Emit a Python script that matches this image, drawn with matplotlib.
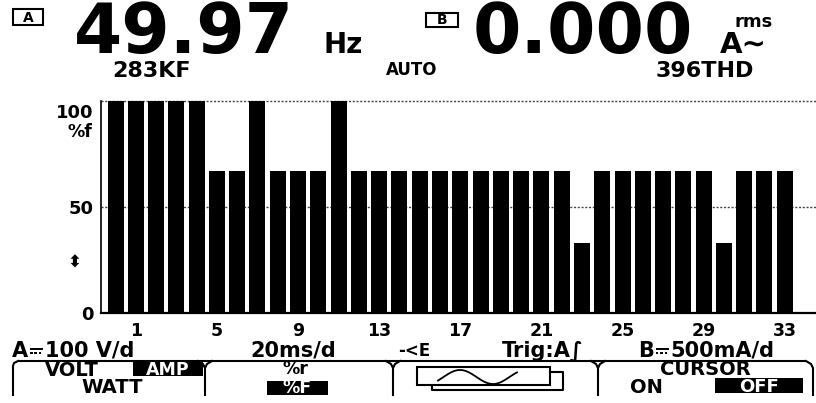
import numpy as np
import matplotlib
matplotlib.use("Agg")
import matplotlib.pyplot as plt
from matplotlib import transforms
from matplotlib.patches import Rectangle

# Harmonic spectrum in percent of fundamental (index 0 is the DC bin)
harmonics = list(range(0, 34))
levels = [100, 100, 100, 100, 100, 67, 67, 100, 67, 67, 67, 100,
          67, 67, 67, 67, 67, 67, 67, 67, 67, 67, 67, 33,
          67, 67, 67, 67, 67, 67, 33, 67, 67, 67]
x_ticks = [1, 5, 9, 13, 17, 21, 25, 29, 33]
y_ticks = [0, 50, 100]
y_gridlines = [50, 100]

# Readout strings
reading_a = "49.97"
unit_a = "Hz"
crest_a = "283KF"
range_mode = "AUTO"
reading_b = "0.000"
unit_b_top = "rms"
unit_b = "A∼"
thd_b = "396THD"
scale_a = ("A", "100 V/d")
scale_b = ("B", "500mA/d")
timebase = "20ms/d"
trig_pos = "-<E"
trigger = "Trig:A∫"

plt.rcParams["font.family"] = ["DejaVu Sans"]
plt.rcParams["font.weight"] = "bold"

W, H = 816, 403
fig = plt.figure(figsize=(W / 100, H / 100), dpi=100, facecolor="white")
renderer = fig.canvas.get_renderer()

# Pixel-space layer for readouts, menu and decorations
ov = fig.add_axes([0, 0, 1, 1])
ov.set_xlim(0, W)
ov.set_ylim(H, 0)
ov.axis("off")

# Spectrum axes
ax = fig.add_axes([101 / W, (H - 313) / H, 715 / W, 212 / H])
ax.patch.set_alpha(0)
ax.bar(harmonics, levels, width=0.79, color="black", linewidth=0, zorder=3)
ax.set_xlim(-0.716, 34.54)
ax.set_ylim(0, 100)
for g in y_gridlines:
    ax.axhline(g, color="#444444", lw=1.0, ls=(0, (1.5, 1.2)), zorder=1, clip_on=False)
for s in ("top", "right"):
    ax.spines[s].set_visible(False)
ax.spines["left"].set_linewidth(1.2)
ax.spines["bottom"].set_linewidth(1.6)
ax.set_xticks(x_ticks, labels=[str(v) for v in x_ticks])
ax.set_yticks(y_ticks, labels=[str(v) for v in y_ticks])
ax.tick_params(axis="x", length=0, pad=6.5, labelsize=12.5)
ax.tick_params(axis="y", length=0, pad=5.5, labelsize=13)
for lbl in ax.get_yticklabels():
    if lbl.get_text() == "100":
        lbl.set_va("top")
        lbl.set_transform(lbl.get_transform() +
                          transforms.ScaledTranslation(0, -3 / 100, fig.dpi_scale_trans))

ov.text(92, 132, "%f", ha="right", va="center", fontsize=12.5)
ov.text(74, 263, "⬍", ha="center", va="center", fontsize=12)

# Top readouts
ov.text(184, 53, reading_a, ha="center", va="baseline", fontsize=50)
ov.text(343, 53, unit_a, ha="center", va="baseline", fontsize=20)
ov.text(151, 77, crest_a, ha="center", va="baseline", fontsize=16)
ov.text(412, 75, range_mode, ha="center", va="baseline", fontsize=12)
ov.text(583, 53, reading_b, ha="center", va="baseline", fontsize=50)
ov.text(754, 27, unit_b_top, ha="center", va="baseline", fontsize=13)
ov.text(720, 53, unit_b, ha="left", va="baseline", fontsize=21)
ov.text(705, 77, thd_b, ha="center", va="baseline", fontsize=16)

# Channel badges
ov.add_patch(Rectangle((13, 9), 30, 16, fill=False, lw=1.5, ec="black"))
ov.text(28, 17.5, "A", ha="center", va="center", fontsize=10)
ov.add_patch(Rectangle((426, 13), 32, 14, fill=False, lw=1.5, ec="black"))
ov.text(442, 20.5, "B", ha="center", va="center", fontsize=10)


def dc_scale(x, y, parts, size):
    """Channel letter, DC coupling mark (solid over dashed), then the scale."""
    t = ov.text(x, y, parts[0], ha="left", va="baseline", fontsize=size)
    bb = t.get_window_extent(renderer)
    x0 = ov.transData.inverted().transform((bb.x1, bb.y0))[0] + 2
    w = 13
    ov.plot([x0, x0 + w], [y - 8, y - 8], color="black", lw=1.4, solid_capstyle="butt")
    for k in range(3):
        sx = x0 + k * w / 3
        ov.plot([sx, sx + w / 5], [y - 4, y - 4], color="black", lw=1.4,
                solid_capstyle="butt")
    ov.text(x0 + w + 2, y, parts[1], ha="left", va="baseline", fontsize=size)


# Status line
dc_scale(12, 357, scale_a, 15)
ov.text(293, 357, timebase, ha="center", va="baseline", fontsize=15)
ov.text(414, 356, trig_pos, ha="center", va="baseline", fontsize=12)
ov.text(543, 357, trigger, ha="center", va="baseline", fontsize=15)
dc_scale(638, 357, scale_b, 15)

# Soft-key frame
lw = 1.5
ov.plot([18, 806], [361, 361], color="black", lw=lw, solid_capstyle="butt")
ov.plot([13, 13, 14, 18], [395, 366, 363, 361], color="black", lw=lw)
for xd in (205, 393, 598):
    ov.plot([xd - 7, xd - 2, xd, xd + 2, xd + 7], [361, 364, 368, 364, 361], color="black", lw=lw)
    ov.plot([xd, xd], [368, 395], color="black", lw=lw)
ov.plot([806, 811, 813, 813], [361, 364, 368, 395], color="black", lw=lw)

# Soft-key labels
ov.text(72, 376, "VOLT", ha="center", va="baseline", fontsize=14)
ov.add_patch(Rectangle((133, 362), 70, 14, color="black", lw=0))
ov.text(168, 375, "AMP", ha="center", va="baseline", fontsize=12.5, color="white")
ov.text(112, 393, "WATT", ha="center", va="baseline", fontsize=14)
ov.text(295, 374, "%r", ha="center", va="baseline", fontsize=12.5)
ov.add_patch(Rectangle((267, 381), 61, 14, color="black", lw=0))
ov.text(297, 393, "%F", ha="center", va="baseline", fontsize=12.5, color="white")
ov.text(705, 375, "CURSOR", ha="center", va="baseline", fontsize=14)
ov.text(646, 393, "ON", ha="center", va="baseline", fontsize=14)
ov.add_patch(Rectangle((715, 378), 88, 15, color="black", lw=0))
ov.text(759, 391.5, "OFF", ha="center", va="baseline", fontsize=13, color="white")

# Waveform key icon
ov.add_patch(Rectangle((417, 367), 133, 18, fill=False, lw=1.5, ec="black"))
ov.plot([550, 563, 563, 432, 432], [372, 372, 390, 390, 385], color="black", lw=1.5)
wx = np.linspace(438, 517, 80)
ov.plot(wx, 377 - 7 * np.cos(2 * np.pi * (wx - 460) / 66), color="black", lw=1.3)

fig.savefig("out.png", dpi=100, facecolor="white")
